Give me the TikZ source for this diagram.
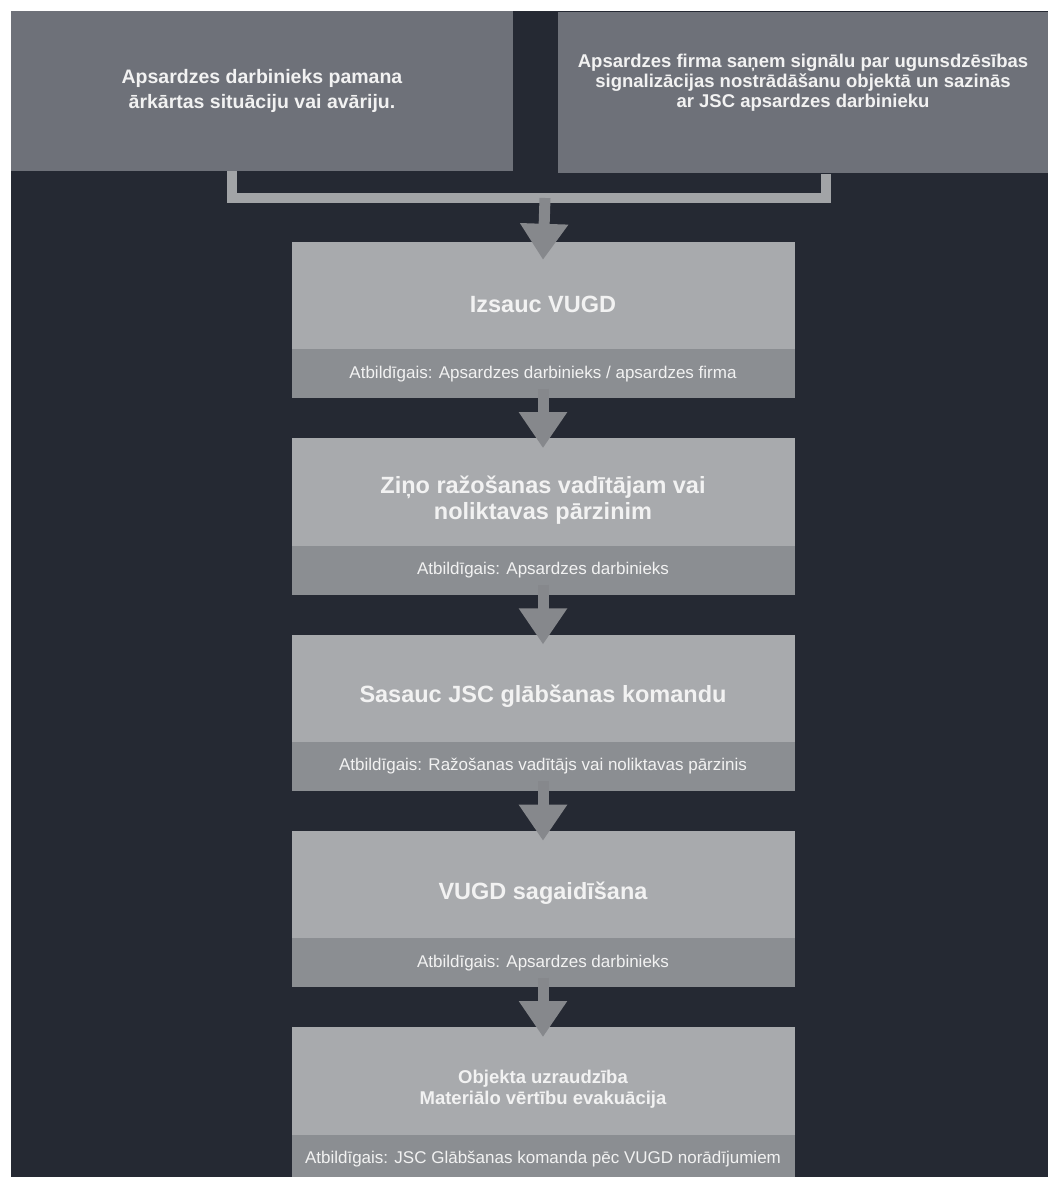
\documentclass[tikz,border=0pt]{standalone}
\usepackage{fontspec}
\setmainfont{Liberation Sans}
\usetikzlibrary{positioning,arrows.meta}

\definecolor{bgdark}{HTML}{252933}
\definecolor{topgray}{HTML}{6E7179}
\definecolor{stepgray}{HTML}{A8AAAD}
\definecolor{bandgray}{HTML}{8B8E92}
\definecolor{linegray}{HTML}{A2A4A7}
\definecolor{arrowgray}{HTML}{86888C}
\definecolor{txtwhite}{HTML}{F2F2F2}

\tikzset{
  topbox/.style={fill=topgray, text=txtwhite, align=center, inner sep=0pt},
  stepbox/.style={fill=stepgray, text=txtwhite, align=center, inner sep=0pt,
    font=\bfseries\fontsize{23.5}{26}\selectfont, minimum width=503pt, minimum height=124pt},
  bandbox/.style={fill=bandgray, text=txtwhite, inner sep=0pt,
    font=\fontsize{17}{20}\selectfont, minimum width=503pt, minimum height=49pt},
  joinline/.style={draw=linegray, line width=10pt},
  flowarrow/.style={draw=arrowgray, line width=11pt, -{Triangle[width=46pt,length=36pt]}}
}

\begin{document}
\begin{tikzpicture}[x=1pt,y=-1pt,node distance=39.5pt]
  \useasboundingbox[fill=white] (0,0) rectangle (1048,1177);
  \fill[bgdark] (11,11) rectangle (1048,1177);

  % two starting events
  \node[topbox, minimum width=502pt, minimum height=160pt,
    font=\bfseries\fontsize{19.5}{25}\selectfont] (alarm) at (262,91)
    {Apsardzes darbinieks pamana\\ ārkārtas situāciju vai avāriju.};
  \node[topbox, minimum width=490pt, minimum height=161pt, text depth=24pt,
    font=\bfseries\fontsize{18.5}{20}\selectfont] (signal) at (803,93)
    {Apsardzes firma saņem signālu par ugunsdzēsības\\
     signalizācijas nostrādāšanu objektā un sazinās\\
     ar JSC apsardzes darbinieku};

  % steps (the band hides the lower 16pt of each step box)
  \node[stepbox] (call) at (543,304) {Izsauc VUGD};
  \node[bandbox, below=-17pt of call] (callresp)
    {Atbildīgais: Apsardzes darbinieks / apsardzes firma};
  \node[stepbox, below=of callresp] (notify)
    {Ziņo ražošanas vadītājam vai\\ noliktavas pārzinim};
  \node[bandbox, below=-17pt of notify] (notifyresp)
    {Atbildīgais: Apsardzes darbinieks};
  \node[stepbox] (team) [below=of notifyresp] {Sasauc JSC glābšanas komandu};
  \node[bandbox, below=-17pt of team] (teamresp)
    {Atbildīgais: Ražošanas vadītājs vai noliktavas pārzinis};
  \node[stepbox] (meet) [below=of teamresp] {VUGD sagaidīšana};
  \node[bandbox, below=-17pt of meet] (meetresp)
    {Atbildīgais: Apsardzes darbinieks};
  \node[stepbox, font=\bfseries\fontsize{18.5}{21}\selectfont] (guard) [below=of meetresp]
    {Objekta uzraudzība\\ Materiālo vērtību evakuācija};
  \node[bandbox, below=-17pt of guard] (guardresp)
    {Atbildīgais: JSC Glābšanas komanda pēc VUGD norādījumiem};

  % connectors
  \coordinate (join) at (545,198);
  \draw[joinline] ([xshift=-30pt]alarm.south) |- (join) -| ([xshift=23pt]signal.south);
  \draw[flowarrow] (join) -- ([yshift=-18pt]call.north);
  \draw[flowarrow] ([yshift=10pt]callresp.south) -- ([yshift=-10pt]notify.north);
  \draw[flowarrow] ([yshift=10pt]notifyresp.south) -- ([yshift=-10pt]team.north);
  \draw[flowarrow] ([yshift=10pt]teamresp.south) -- ([yshift=-10pt]meet.north);
  \draw[flowarrow] ([yshift=10pt]meetresp.south) -- ([yshift=-10pt]guard.north);
\end{tikzpicture}
\end{document}
